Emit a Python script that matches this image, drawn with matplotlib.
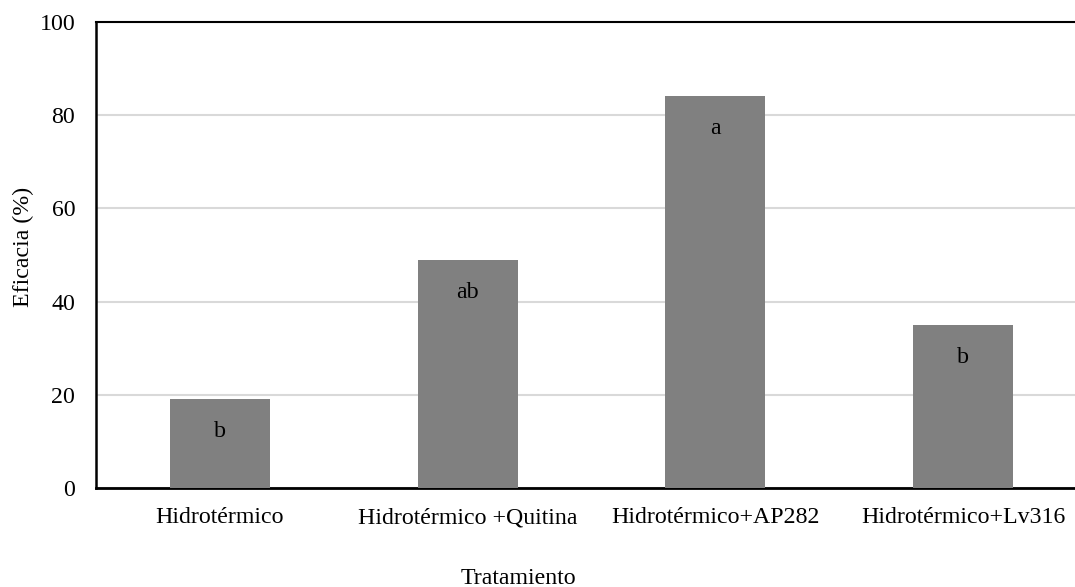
import matplotlib
matplotlib.use("Agg")
import matplotlib.pyplot as plt

categories = ["Hidrotérmico", "Hidrotérmico +Quitina", "Hidrotérmico+AP282", "Hidrotérmico+Lv316"]
values = [19.1, 48.9, 84.1, 35.0]
letters = ["b", "ab", "a", "b"]
yticks = [0, 20, 40, 60, 80, 100]

plt.rcParams['font.family'] = ['Liberation Serif', 'DejaVu Serif']

W, H = 1075, 587
fig = plt.figure(figsize=(W / 100, H / 100), dpi=100)
ax = fig.add_axes([96 / W, (H - 488) / H, (1087 - 96) / W, (488 - 22) / H])

x = list(range(len(categories)))
bars = ax.bar(x, values, width=0.403, color="#808080", zorder=3)
for xi, v, lab in zip(x, values, letters):
    ax.annotate(lab, (xi, v), xytext=(0, -23.5), textcoords="offset points",
                ha="center", va="center", fontsize=17.2, color="black", zorder=4)

ax.set_xlim(-0.5, len(categories) - 0.5)
ax.set_ylim(0, 100)
ax.set_yticks(yticks)
ax.set_xticks(x)
ax.set_xticklabels(categories)
ax.tick_params(axis="both", length=0, labelsize=17.2)
ax.tick_params(axis="y", pad=15)
ax.tick_params(axis="x", pad=14)
ax.yaxis.grid(True, color="#d9d9d9", linewidth=1.5, zorder=0)
ax.set_axisbelow(True)

for s in ["left", "bottom", "top"]:
    ax.spines[s].set_color("black")
ax.spines["left"].set_linewidth(1.8)
ax.spines["bottom"].set_linewidth(2.0)
ax.spines["top"].set_linewidth(1.5)
ax.spines["right"].set_visible(False)

fig.text(23 / W, 1 - 247 / H, "Eficacia (%)", fontsize=17.2, rotation=90,
         ha="center", va="center")
fig.text(518 / W, 1 - 578 / H, "Tratamiento", fontsize=17.2,
         ha="center", va="center")

fig.savefig("out.png", dpi=100)
